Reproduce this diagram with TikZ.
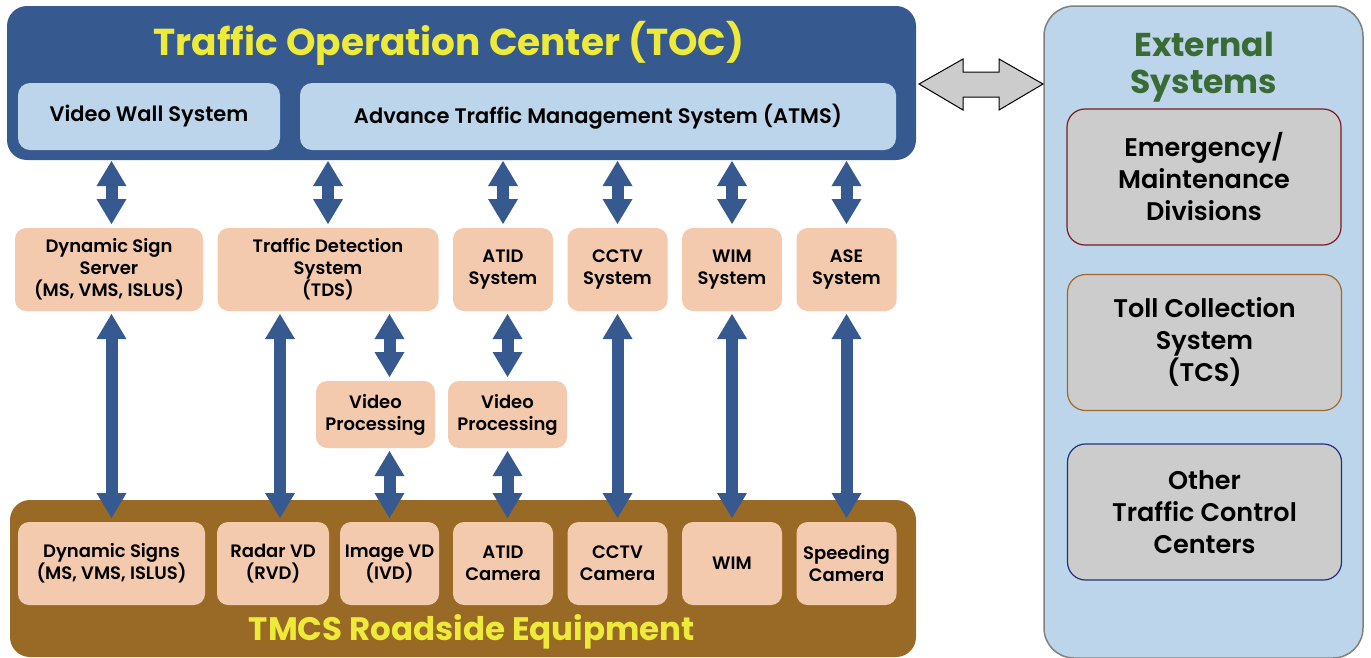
\documentclass[tikz,border=0pt]{standalone}
\usepackage{fontspec}
\setmainfont{Poppins}[UprightFont=* SemiBold,BoldFont=* Bold]
\usetikzlibrary{positioning,arrows.meta}

\definecolor{tocblue}{HTML}{36598F}
\definecolor{paleblue}{HTML}{BDD5EA}
\definecolor{peach}{HTML}{F3CAAE}
\definecolor{roadbrown}{HTML}{986A25}
\definecolor{titleyellow}{HTML}{EEEA3A}
\definecolor{extgreen}{HTML}{3A6B35}
\definecolor{boxgray}{HTML}{CCCCCC}
\definecolor{emred}{HTML}{7A1A22}
\definecolor{tollbrown}{HTML}{A06A2A}
\definecolor{tccnavy}{HTML}{233278}

\begin{document}
\begin{tikzpicture}
  [x=1pt,y=-1pt,
   panel/.style={rectangle,rounded corners=20pt,inner sep=0pt,outer sep=0pt},
   sysbox/.style={rectangle,rounded corners=12pt,fill=paleblue,minimum height=67pt,inner sep=0pt,outer sep=0pt,font=\fontsize{21}{24}\selectfont},
   unit/.style={rectangle,rounded corners=11pt,fill=peach,minimum height=83pt,inner sep=0pt,outer sep=0pt,align=center,font=\fontsize{18}{22}\selectfont},
   extbox/.style={rectangle,rounded corners=18pt,fill=boxgray,line width=1.2pt,minimum width=274pt,minimum height=136pt,align=center,font=\fontsize{25.5}{32}\selectfont},
   link/.style={line width=12pt,draw=tocblue,{Triangle[width=30pt,length=25pt,line width=0pt]}-{Triangle[width=30pt,length=25pt,line width=0pt]},shorten <=3pt,shorten >=4pt},
   bridge/.style={draw=black,fill=boxgray,line width=1pt,line join=miter},
   node distance=14.5pt]
  \useasboundingbox (0,0) rectangle (1371,657);
  % operation center
  \node[panel,fill=tocblue,minimum width=909pt,minimum height=154pt] (toc) at (461.5,83) {};
  \node[font=\fontsize{37.5}{40}\selectfont\bfseries,text=titleyellow] (toctitle) at (449,43) {Traffic Operation Center (TOC)};
  \node[sysbox,minimum width=262pt] (vws) at (149,116.5) {Video Wall System};
  \node[sysbox,minimum width=596pt,right=20pt of vws] (atms) {Advance Traffic Management System (ATMS)};
  % roadside panel
  \node[panel,fill=roadbrown,minimum width=906pt,minimum height=157pt] (road) at (463,578.5) {};
  \node[font=\fontsize{32.5}{36}\selectfont\bfseries,text=titleyellow] (roadtitle) at (472,632) {TMCS Roadside Equipment};
  % systems
  \node[unit,minimum width=188pt] (dss) at (109,269.5) {Dynamic Sign\\Server\\(MS, VMS, ISLUS)};
  \node[unit,minimum width=221pt,right=of dss] (tds) {Traffic Detection\\System\\(TDS)};
  \node[unit,minimum width=100pt,right=of tds] (atid) {ATID\\System};
  \node[unit,minimum width=100pt,right=of atid] (cctv) {CCTV\\System};
  \node[unit,minimum width=100pt,right=of cctv] (wim) {WIM\\System};
  \node[unit,minimum width=100pt,right=of wim] (ase) {ASE\\System};
  \node[unit,minimum width=119pt,minimum height=67pt] (vp2) at (507.5,414.5) {Video\\Processing};
  \node[unit,minimum width=119pt,minimum height=67pt,left=13pt of vp2] (vp1) {Video\\Processing};
  % field devices
  \node[unit,minimum width=100pt,below=211pt of atid] (atidcam) {ATID\\Camera};
  \node[unit,minimum width=100pt,below=211pt of cctv] (cctvcam) {CCTV\\Camera};
  \node[unit,minimum width=100pt,below=211pt of wim] (wimsensor) {WIM};
  \node[unit,minimum width=100pt,below=211pt of ase] (speedcam) {Speeding\\Camera};
  \node[unit,minimum width=99pt,left=14pt of atidcam] (ivd) {Image VD\\(IVD)};
  \node[unit,minimum width=112pt,left=11pt of ivd] (rvd) {Radar VD\\(RVD)};
  \node[unit,minimum width=187pt,left=12pt of rvd] (dsigns) {Dynamic Signs\\(MS, VMS, ISLUS)};
  % external systems
  \node[panel,rounded corners=30pt,fill=paleblue,draw=gray,line width=1.5pt,minimum width=319pt,minimum height=652pt] (ext) at (1203.5,332) {};
  \node[font=\fontsize{33}{37}\selectfont\bfseries,text=extgreen,align=center] (exttitle) at (1204,67) {External\\Systems};
  \node[extbox,draw=emred] (emerg) at (1204,177) {Emergency/\\Maintenance\\Divisions};
  \node[extbox,draw=tollbrown] (toll) at (1204.5,342.5) {Toll Collection\\System\\(TCS)};
  \node[extbox,draw=tccnavy] (other) at (1204.5,512) {Other\\Traffic Control\\Centers};
  % two-way link toc <-> external
  \draw[bridge] (919,84) -- (963,59) -- (963,72) -- (999,72) -- (999,59) -- (1043,84)
    -- (999,110) -- (999,97) -- (963,97) -- (963,110) -- cycle;
  % links
  \coordinate (rvdtop) at ([xshift=7pt]rvd.north);
  \draw[link,shorten <=1pt] (toc.south -| dsigns.north) -- (dss.north -| dsigns.north);
  \draw[link,shorten <=1pt] (toc.south -| tds.north) -- (tds.north);
  \draw[link,shorten <=1pt] (toc.south -| atid.north) -- (atid.north);
  \draw[link,shorten <=1pt] (toc.south -| cctv.north) -- (cctv.north);
  \draw[link,shorten <=1pt] (toc.south -| wim.north) -- (wim.north);
  \draw[link,shorten <=1pt] (toc.south -| ase.north) -- (ase.north);
  \draw[link] (dss.south -| dsigns.north) -- (dsigns.north);
  \draw[link] (rvdtop |- tds.south) -- (rvdtop);
  \draw[link] (tds.south -| ivd.north) -- (vp1.north -| ivd.north);
  \draw[link] (vp1.south -| ivd.north) -- (ivd.north);
  \draw[link] (atid.south -| vp2.north) -- (vp2.north);
  \draw[link] (vp2.south) -- (vp2.south |- atidcam.north);
  \draw[link] (cctv.south) -- (cctvcam.north);
  \draw[link] (wim.south) -- (wimsensor.north);
  \draw[link] (ase.south) -- (speedcam.north);
\end{tikzpicture}
\end{document}
